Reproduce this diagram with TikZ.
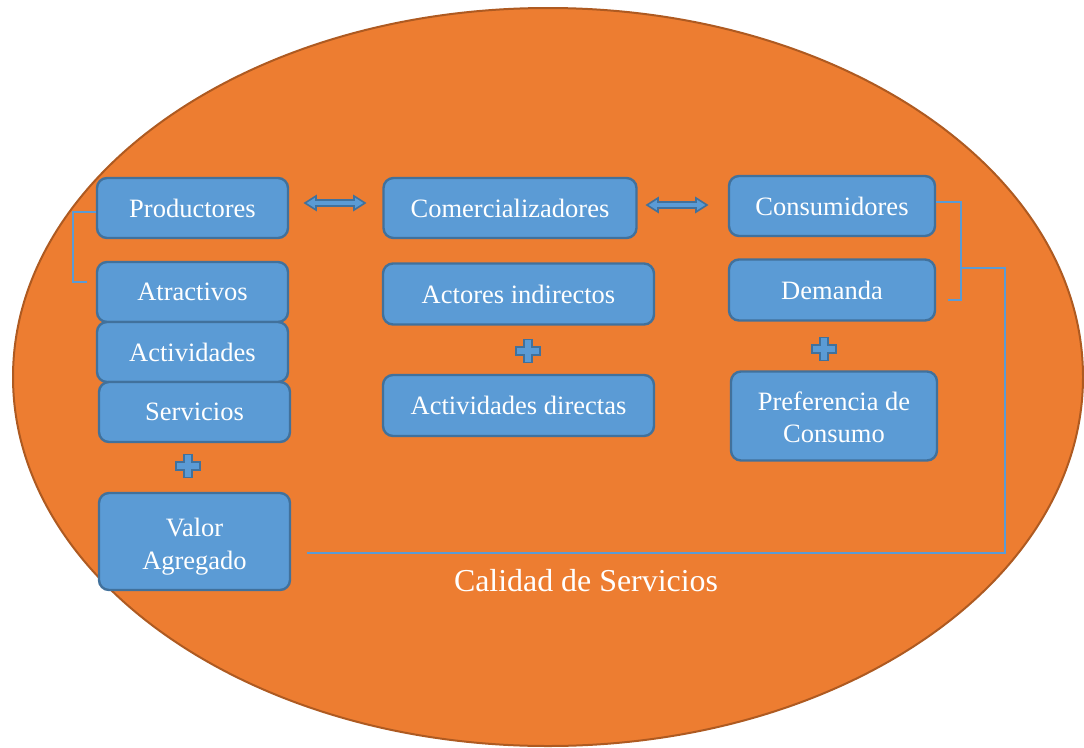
\documentclass[tikz,border=0pt]{standalone}
\usepackage{fontspec}
\setmainfont{Liberation Serif}
\usetikzlibrary{calc}
\definecolor{orfill}{HTML}{ED7D31}
\definecolor{ordraw}{HTML}{AE5A21}
\definecolor{bfill}{HTML}{5B9BD5}
\definecolor{bdraw}{HTML}{41719C}
\newcommand{\lowtwo}[3]{\raisebox{-#1}[\height][\depth]{\begin{tabular}{@{}c@{}}#2\\#3\end{tabular}}}
\tikzset{
  box/.style={draw=bdraw, fill=bfill, line width=2.4pt, rounded corners=10pt,
    inner sep=0pt, align=center, text=white,
    font=\fontsize{26.5}{32.5}\selectfont},
  link/.style={draw=bfill, line width=1.6pt},
  plussign/.pic={
    \draw[draw=bdraw, fill=bfill, line width=1.8pt]
      (-4,-11.5) -- (4,-11.5) -- (4,-4) -- (12,-4) -- (12,4) -- (4,4) -- (4,11.5)
      -- (-4,11.5) -- (-4,4) -- (-12,4) -- (-12,-4) -- (-4,-4) -- cycle;
  },
  dblarrow/.pic={
    \draw[draw=bdraw, fill=bfill, line width=1.6pt]
      (-30,0) -- (-19,-7) -- (-19,-3) -- (19,-3) -- (19,-7) -- (30,0)
      -- (19,7) -- (19,3) -- (-19,3) -- (-19,7) -- cycle;
  }
}
\begin{document}
\begin{tikzpicture}[x=1pt,y=-1pt]
\useasboundingbox[fill=white] (0,0) rectangle (1084,747);
\draw[fill=orfill, draw=ordraw, line width=2pt] (548,377) ellipse [x radius=535pt, y radius=369pt];

% left column
\node[box, minimum width=191pt, minimum height=60pt] (prod) at (192.5,208) {Productores};
\node[box, minimum width=191pt, minimum height=60pt] (atr) at (192.5,292) {Atractivos};
\node[box, minimum width=191pt, minimum height=60pt] (act) at (192.5,352) {Actividades};
\node[box, minimum width=191pt, minimum height=60pt] (serv) at (194.5,412) {Servicios};
\pic at (188,466) {plussign};
\node[box, minimum width=191pt, minimum height=97pt] (valor) at (194.5,541.5) {\lowtwo{5pt}{Valor}{Agregado}};

% middle column
\node[box, minimum width=253pt, minimum height=60pt] (com) at (510,208) {Comercializadores};
\node[box, minimum width=271pt, minimum height=61pt] (actind) at (518.5,294) {Actores indirectos};
\pic at (528,351) {plussign};
\node[box, minimum width=271pt, minimum height=61pt] (actdir) at (518.5,405.5) {Actividades directas};

% right column
\node[box, minimum width=206pt, minimum height=60pt] (cons) at (832,206) {Consumidores};
\node[box, minimum width=206pt, minimum height=61pt] (dem) at (832,290) {Demanda};
\pic at (824,349) {plussign};
\node[box, minimum width=206pt, minimum height=89pt] (pref) at (834,416) {\lowtwo{4pt}{Preferencia de}{Consumo}};

% double arrows
\pic at (335,203) {dblarrow};
\pic at (677,205) {dblarrow};

% brackets
\coordinate (lbend) at (87,282);
\draw[link] ($(prod.west)+(0,4)$) -- (73,212) |- (lbend);
\coordinate (rbend) at (948,300);
\draw[link] ($(cons.east)+(0,-4)$) -- (961,202) |- (rbend);
\coordinate (rmid) at (961,268);
\coordinate (bend) at (307,553);
\draw[link] (rmid) -- (1005,268) |- (bend);

\node[text=white, font=\fontsize{31.9}{36}\selectfont] (cal) at (586,581) {Calidad de Servicios};
\end{tikzpicture}
\end{document}
